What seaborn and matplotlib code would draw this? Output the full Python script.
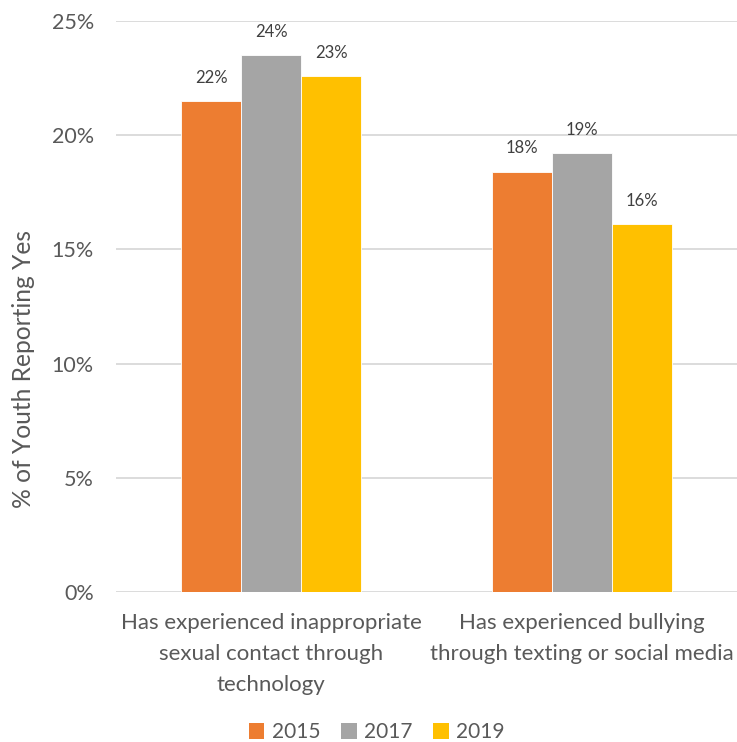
import matplotlib
matplotlib.use("Agg")
import matplotlib.pyplot as plt
import seaborn as sns
import pandas as pd
from matplotlib.patches import Patch

categories = ["Has experienced inappropriate\nsexual contact through\ntechnology",
              "Has experienced bullying\nthrough texting or social media"]
years = ["2015", "2017", "2019"]
values_2015 = [21.5, 18.4]
values_2017 = [23.5, 19.2]
values_2019 = [22.6, 16.1]
labels_2015 = ["22%", "18%"]
labels_2017 = ["24%", "19%"]
labels_2019 = ["23%", "16%"]
yticks = [0, 5, 10, 15, 20, 25]
ytick_labels = ["0%", "5%", "10%", "15%", "20%", "25%"]
colors = ["#ED7D31", "#A5A5A5", "#FFC000"]

rows = []
for yr, vals in zip(years, [values_2015, values_2017, values_2019]):
    for c, v in zip(categories, vals):
        rows.append({"cat": c, "year": yr, "val": v})
df = pd.DataFrame(rows)

sns.set_style("white")
plt.rcParams["font.family"] = ["Lato", "DejaVu Sans"]
text_color = "#595959"

fig = plt.figure(figsize=(7.37, 7.42), dpi=100)
ax = fig.add_axes([0.1574, 0.2022, 0.8426, 0.7695])

sns.barplot(data=df, x="cat", y="val", hue="year", palette=colors,
            width=0.58, gap=0, ax=ax, legend=False, saturation=1,
            edgecolor="white", linewidth=0.6)

ax.set_xlim(-0.5, 1.5)
ax.set_ylim(0, 25)
ax.set_yticks(yticks)
ax.set_yticklabels(ytick_labels, fontsize=15.5, color=text_color)
ax.tick_params(axis="y", length=0, pad=16)
ax.tick_params(axis="x", length=0, pad=15, labelsize=16, labelcolor=text_color)
for lbl in ax.get_xticklabels():
    lbl.set_linespacing(1.7)
ax.set_xlabel("")
ax.set_ylabel("% of Youth Reporting Yes", fontsize=17.7, color=text_color)
ax.yaxis.set_label_coords(-0.13, 0.39)
ax.grid(axis="y", color="#D9D9D9", linewidth=1.3)
ax.set_axisbelow(True)
for s in ax.spines.values():
    s.set_visible(False)

all_labels = [labels_2015, labels_2017, labels_2019]
for container, labs in zip(ax.containers, all_labels):
    ax.bar_label(container, labels=labs, padding=11, fontsize=12, color="#404040")

handles = [Patch(facecolor=c, edgecolor="none", label=y) for c, y in zip(colors, years)]
fig.legend(handles=handles, loc="center", bbox_to_anchor=(0.511, 0.013), ncol=3,
           frameon=False, fontsize=15, handlelength=0.75, handleheight=0.75,
           handletextpad=0.35, columnspacing=1.0, labelcolor=text_color,
           borderpad=0)

fig.savefig("out.png", dpi=100)
